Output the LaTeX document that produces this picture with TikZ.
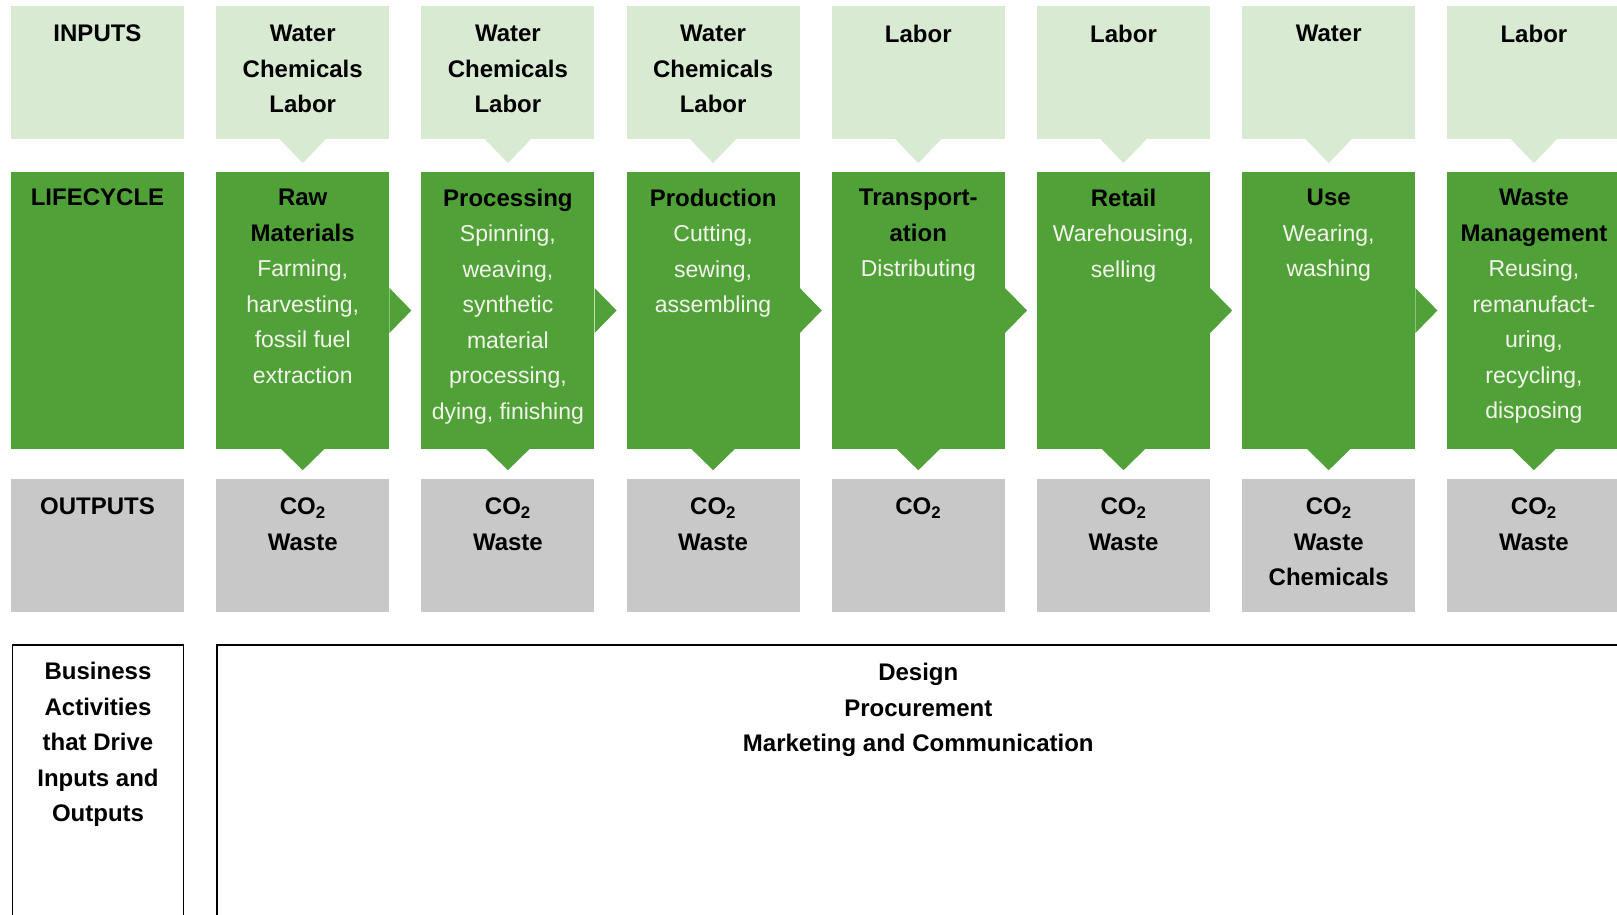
\documentclass[tikz,border=0pt]{standalone}
\usepackage{fontspec}
\setmainfont{Liberation Sans}
\definecolor{paleg}{RGB}{217,234,211}
\definecolor{leafg}{RGB}{80,162,56}
\definecolor{ashg}{RGB}{200,200,200}
\definecolor{lctext}{RGB}{244,244,236}
\newcommand{\lcdesc}[1]{{\mdseries\color{lctext}\fontsize{23}{35.5}\selectfont #1}}
\begin{document}
\begin{tikzpicture}[x=1pt, y=-1pt,
  inbox/.style={fill=paleg, minimum width=173pt, minimum height=133pt, inner sep=0pt},
  lcbox/.style={fill=leafg, minimum width=173pt, minimum height=277pt, inner sep=0pt},
  outbox/.style={fill=ashg, minimum width=173pt, minimum height=133pt, inner sep=0pt},
  hd/.style={anchor=north, align=center, inner sep=0pt, font=\fontsize{24}{35.5}\selectfont\bfseries},
]
\useasboundingbox (0,0) rectangle (1617,915);
\clip (0,0) rectangle (1617,915);
% inputs row
\node[inbox] (in0) at (97.5,72.5){};
\node[inbox] (in1) at (302.7,72.5){};
\node[inbox] (in2) at (507.9,72.5){};
\node[inbox] (in3) at (713.1,72.5){};
\node[inbox] (in4) at (918.3,72.5){};
\node[inbox] (in5) at (1123.5,72.5){};
\node[inbox] (in6) at (1328.7,72.5){};
\node[inbox] (in7) at (1533.9,72.5){};
\fill[paleg] ([xshift=-23pt]in1.south) -- ([xshift=23pt]in1.south) -- ([yshift=-24pt]in1.south) -- cycle;
\fill[paleg] ([xshift=-23pt]in2.south) -- ([xshift=23pt]in2.south) -- ([yshift=-24pt]in2.south) -- cycle;
\fill[paleg] ([xshift=-23pt]in3.south) -- ([xshift=23pt]in3.south) -- ([yshift=-24pt]in3.south) -- cycle;
\fill[paleg] ([xshift=-23pt]in4.south) -- ([xshift=23pt]in4.south) -- ([yshift=-24pt]in4.south) -- cycle;
\fill[paleg] ([xshift=-23pt]in5.south) -- ([xshift=23pt]in5.south) -- ([yshift=-24pt]in5.south) -- cycle;
\fill[paleg] ([xshift=-23pt]in6.south) -- ([xshift=23pt]in6.south) -- ([yshift=-24pt]in6.south) -- cycle;
\fill[paleg] ([xshift=-23pt]in7.south) -- ([xshift=23pt]in7.south) -- ([yshift=-24pt]in7.south) -- cycle;
\node[hd] (in0t) at ([yshift=-19pt]in0.north) {INPUTS};
\node[hd] (in1t) at ([yshift=-19pt]in1.north) {Water\\Chemicals\\Labor};
\node[hd] (in2t) at ([yshift=-19pt]in2.north) {Water\\Chemicals\\Labor};
\node[hd] (in3t) at ([yshift=-19pt]in3.north) {Water\\Chemicals\\Labor};
\node[hd] (in4t) at ([yshift=-19pt]in4.north) {Labor};
\node[hd] (in5t) at ([yshift=-19pt]in5.north) {Labor};
\node[hd] (in6t) at ([yshift=-19pt]in6.north) {Water};
\node[hd] (in7t) at ([yshift=-19pt]in7.north) {Labor};
% lifecycle row
\node[lcbox] (lc0) at (97.5,310.5){};
\node[lcbox] (lc1) at (302.7,310.5){};
\node[lcbox] (lc2) at (507.9,310.5){};
\node[lcbox] (lc3) at (713.1,310.5){};
\node[lcbox] (lc4) at (918.3,310.5){};
\node[lcbox] (lc5) at (1123.5,310.5){};
\node[lcbox] (lc6) at (1328.7,310.5){};
\node[lcbox] (lc7) at (1533.9,310.5){};
\fill[leafg] ([yshift=22.5pt]lc1.east) -- ([xshift=22pt]lc1.east) -- ([yshift=-22.5pt]lc1.east) -- cycle;
\fill[leafg] ([yshift=22.5pt]lc2.east) -- ([xshift=22pt]lc2.east) -- ([yshift=-22.5pt]lc2.east) -- cycle;
\fill[leafg] ([yshift=22.5pt]lc3.east) -- ([xshift=22pt]lc3.east) -- ([yshift=-22.5pt]lc3.east) -- cycle;
\fill[leafg] ([yshift=22.5pt]lc4.east) -- ([xshift=22pt]lc4.east) -- ([yshift=-22.5pt]lc4.east) -- cycle;
\fill[leafg] ([yshift=22.5pt]lc5.east) -- ([xshift=22pt]lc5.east) -- ([yshift=-22.5pt]lc5.east) -- cycle;
\fill[leafg] ([yshift=22.5pt]lc6.east) -- ([xshift=22pt]lc6.east) -- ([yshift=-22.5pt]lc6.east) -- cycle;
\fill[leafg] ([xshift=-21.5pt]lc1.south) -- ([xshift=21.5pt]lc1.south) -- ([yshift=-21pt]lc1.south) -- cycle;
\fill[leafg] ([xshift=-21.5pt]lc2.south) -- ([xshift=21.5pt]lc2.south) -- ([yshift=-21pt]lc2.south) -- cycle;
\fill[leafg] ([xshift=-21.5pt]lc3.south) -- ([xshift=21.5pt]lc3.south) -- ([yshift=-21pt]lc3.south) -- cycle;
\fill[leafg] ([xshift=-21.5pt]lc4.south) -- ([xshift=21.5pt]lc4.south) -- ([yshift=-21pt]lc4.south) -- cycle;
\fill[leafg] ([xshift=-21.5pt]lc5.south) -- ([xshift=21.5pt]lc5.south) -- ([yshift=-21pt]lc5.south) -- cycle;
\fill[leafg] ([xshift=-21.5pt]lc6.south) -- ([xshift=21.5pt]lc6.south) -- ([yshift=-21pt]lc6.south) -- cycle;
\fill[leafg] ([xshift=-21.5pt]lc7.south) -- ([xshift=21.5pt]lc7.south) -- ([yshift=-21pt]lc7.south) -- cycle;
\node[hd] (lc0t) at ([yshift=-17pt]lc0.north) {LIFECYCLE};
\node[hd] (lc1t) at ([yshift=-17pt]lc1.north) {Raw\\Materials\\\lcdesc{Farming,}\\\lcdesc{harvesting,}\\\lcdesc{fossil fuel}\\\lcdesc{extraction}};
\node[hd] (lc2t) at ([yshift=-17pt]lc2.north) {Processing\\\lcdesc{Spinning,}\\\lcdesc{weaving,}\\\lcdesc{synthetic}\\\lcdesc{material}\\\lcdesc{processing,}\\\lcdesc{dying, finishing}};
\node[hd] (lc3t) at ([yshift=-17pt]lc3.north) {Production\\\lcdesc{Cutting,}\\\lcdesc{sewing,}\\\lcdesc{assembling}};
\node[hd] (lc4t) at ([yshift=-17pt]lc4.north) {Transport-\\ation\\\lcdesc{Distributing}};
\node[hd] (lc5t) at ([yshift=-17pt]lc5.north) {Retail\\\lcdesc{Warehousing,}\\\lcdesc{selling}};
\node[hd] (lc6t) at ([yshift=-17pt]lc6.north) {Use\\\lcdesc{Wearing,}\\\lcdesc{washing}};
\node[hd] (lc7t) at ([yshift=-17pt]lc7.north) {Waste\\Management\\\lcdesc{Reusing,}\\\lcdesc{remanufact-}\\\lcdesc{uring,}\\\lcdesc{recycling,}\\\lcdesc{disposing}};
% outputs row
\node[outbox] (out0) at (97.5,545.5){};
\node[outbox] (out1) at (302.7,545.5){};
\node[outbox] (out2) at (507.9,545.5){};
\node[outbox] (out3) at (713.1,545.5){};
\node[outbox] (out4) at (918.3,545.5){};
\node[outbox] (out5) at (1123.5,545.5){};
\node[outbox] (out6) at (1328.7,545.5){};
\node[outbox] (out7) at (1533.9,545.5){};
\node[hd] (out0t) at ([yshift=-19pt]out0.north) {OUTPUTS};
\node[hd] (out1t) at ([yshift=-19pt]out1.north) {CO\textsubscript{2}\\Waste};
\node[hd] (out2t) at ([yshift=-19pt]out2.north) {CO\textsubscript{2}\\Waste};
\node[hd] (out3t) at ([yshift=-19pt]out3.north) {CO\textsubscript{2}\\Waste};
\node[hd] (out4t) at ([yshift=-19pt]out4.north) {CO\textsubscript{2}};
\node[hd] (out5t) at ([yshift=-19pt]out5.north) {CO\textsubscript{2}\\Waste};
\node[hd] (out6t) at ([yshift=-19pt]out6.north) {CO\textsubscript{2}\\Waste\\Chemicals};
\node[hd] (out7t) at ([yshift=-19pt]out7.north) {CO\textsubscript{2}\\Waste};
% business activities
\node[draw, line width=1.5pt, minimum width=171pt, minimum height=290pt, inner sep=0pt] (biz) at (98,790){};
\node[draw, line width=1.5pt, minimum width=1420pt, minimum height=290pt, inner sep=0pt] (act) at (927,790){};
\node[hd] (bizt) at ([yshift=-18pt]biz.north) {Business\\Activities\\that Drive\\Inputs and\\Outputs};
\node[hd] (actt) at (918.3,663) {Design\\Procurement\\Marketing and Communication};
\end{tikzpicture}
\end{document}
